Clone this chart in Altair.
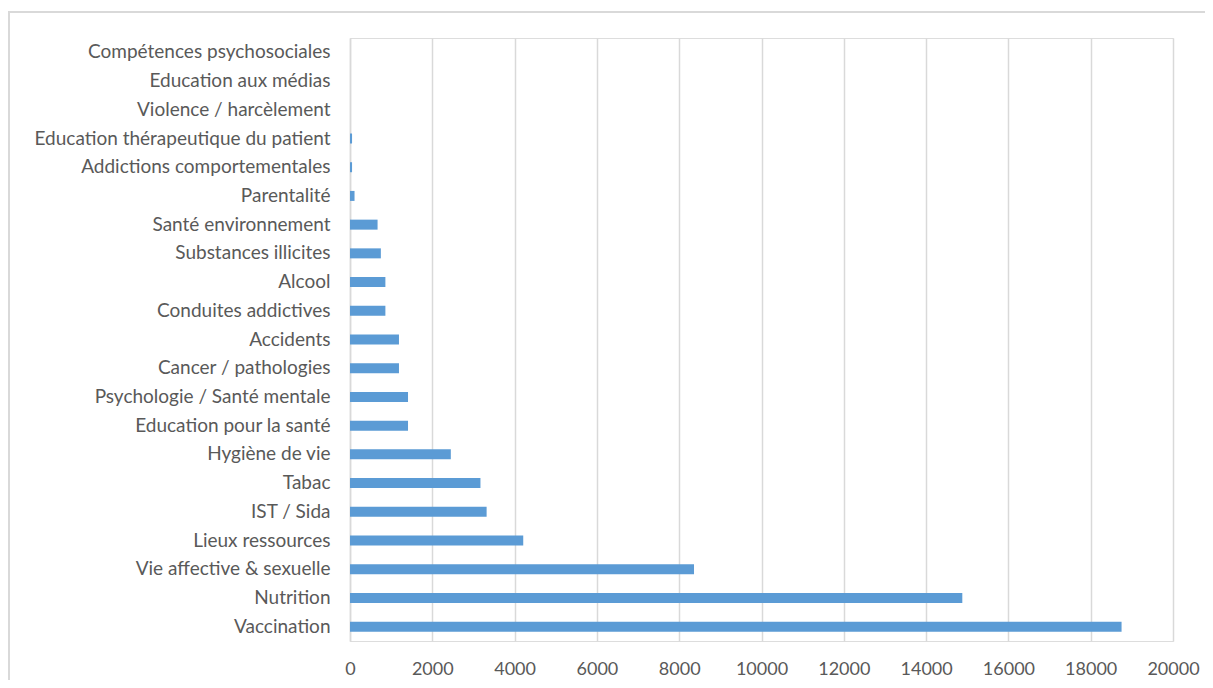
import altair as alt
import pandas as pd

categories = [
    "Compétences psychosociales",
    "Education aux médias",
    "Violence / harcèlement",
    "Education thérapeutique du patient",
    "Addictions comportementales",
    "Parentalité",
    "Santé environnement",
    "Substances illicites",
    "Alcool",
    "Conduites addictives",
    "Accidents",
    "Cancer / pathologies",
    "Psychologie / Santé mentale ",
    "Education pour la santé",
    "Hygiène de vie",
    "Tabac",
    "IST / Sida",
    "Lieux ressources",
    "Vie affective & sexuelle",
    "Nutrition",
    "Vaccination",
]
values = [0, 0, 0, 50, 50, 110, 670, 750, 860, 860, 1190, 1190, 1410, 1410,
          2450, 3170, 3320, 4210, 8360, 14880, 18750]
x_ticks = list(range(0, 20001, 2000))

df = pd.DataFrame({"cat": categories, "val": values})

FONT = "Lato"
W, H = 823, 603

bars = alt.Chart(df).mark_bar(color="#5b9bd5", size=10).encode(
    x=alt.X("val:Q", scale=alt.Scale(domain=[0, 20000], nice=False),
            axis=alt.Axis(values=x_ticks, format="d", title=None, grid=True,
                          gridColor="#d9d9d9", gridWidth=1.5, domain=False, ticks=False,
                          labelPadding=19, labelFont=FONT, labelFontSize=18,
                          labelColor="#595959", labelFlush=False)),
    y=alt.Y("cat:N", sort=None,
            scale=alt.Scale(paddingInner=0, paddingOuter=0),
            axis=alt.Axis(title=None, domain=True, domainColor="#d9d9d9", domainWidth=1.5,
                          ticks=False, labelPadding=20, labelFont=FONT,
                          labelFontSize=19, labelColor="#595959", labelLimit=400)),
)

frame = alt.Chart(df).mark_rect(fill=None, stroke="#d9d9d9", strokeWidth=1.5).encode(
    x=alt.value(-341), x2=alt.value(W + 60), y=alt.value(-26), y2=alt.value(H + 80)
)

chart = alt.layer(frame, bars).properties(
    width=W, height=H,
    autosize=alt.AutoSizeParams(type="none"),
    padding={"left": 342, "top": 30, "right": 32, "bottom": 39},
).configure_view(stroke=None).configure(background="white")

chart.save("out.html", embed_options={"renderer": "svg", "actions": False})
